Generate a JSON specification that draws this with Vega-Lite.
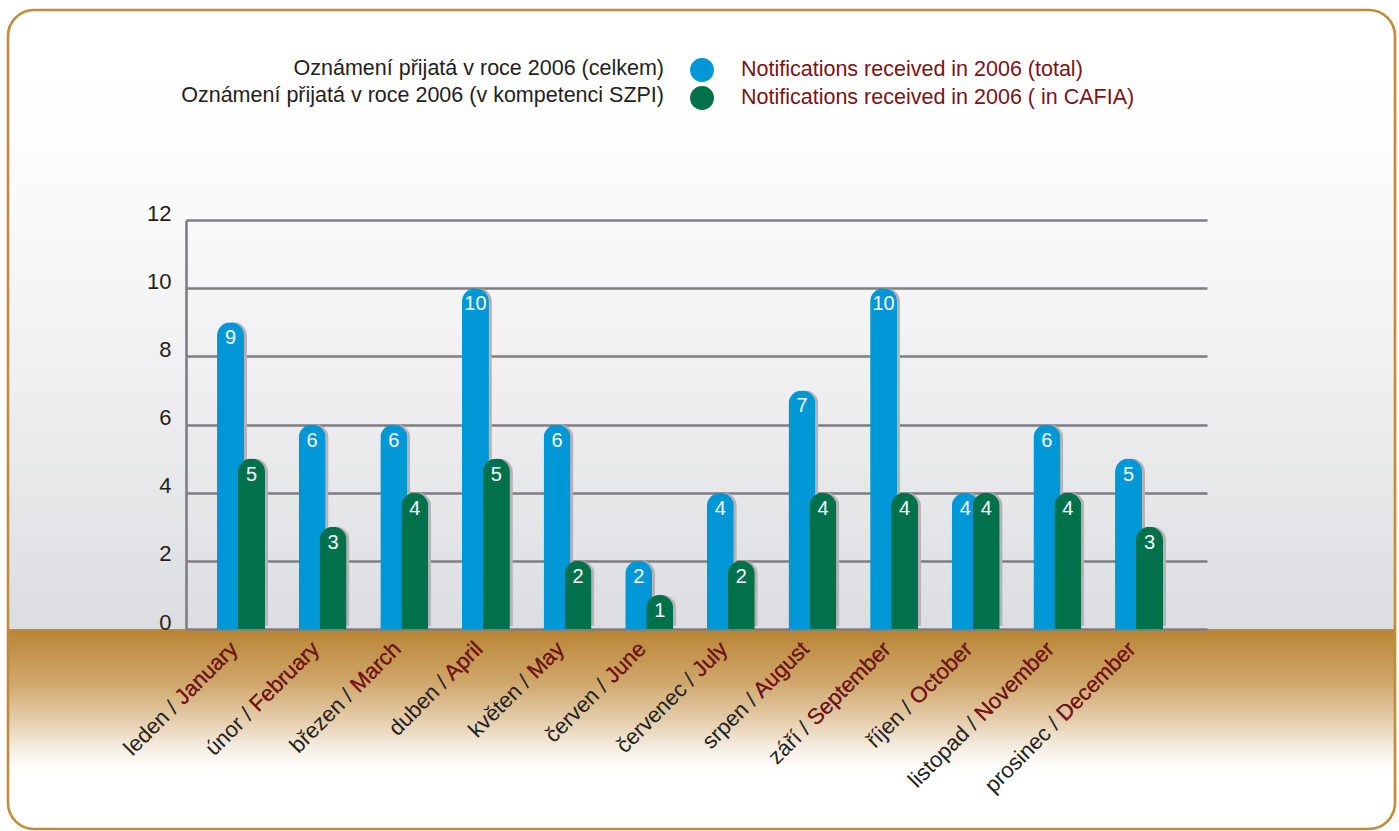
{
  "$schema": "https://vega.github.io/schema/vega-lite/v6.json",
  "width": 1387,
  "height": 819,
  "autosize": {"type": "none"},
  "padding": {"left": 8, "top": 10, "right": 4, "bottom": 2},
  "background": "#ffffff",
  "config": {
    "font": "Liberation Sans",
    "view": {
      "stroke": "#c28b37",
      "strokeWidth": 2.6,
      "cornerRadius": 26,
      "fill": {
        "gradient": "linear",
        "x1": 0, "y1": 0, "x2": 0, "y2": 1,
        "stops": [
          {"offset": 0, "color": "#ffffff"},
          {"offset": 0.12, "color": "#fefefe"},
          {"offset": 0.256, "color": "#f9f9fa"},
          {"offset": 0.476, "color": "#eeeef0"},
          {"offset": 0.7555, "color": "#dcdde0"},
          {"offset": 0.7565, "color": "#b98534"},
          {"offset": 0.82, "color": "#cfa66a"},
          {"offset": 0.87, "color": "#e6d0b0"},
          {"offset": 0.905, "color": "#f7f1e8"},
          {"offset": 0.93, "color": "#ffffff"},
          {"offset": 1, "color": "#ffffff"}
        ]
      }
    },
    "axisY": {
      "domainColor": "#7e7e82",
      "domainWidth": 2.6,
      "gridColor": "#7e7e82",
      "gridWidth": 2.6,
      "gridOpacity": 1,
      "ticks": false,
      "labelFontSize": 22,
      "labelColor": "#231f20",
      "labelPadding": 15,
      "labelBaseline": "alphabetic",
      "labelFont": "Liberation Sans",
      "format": "d"
    },
    "axisX": {
      "offset": -200,
      "domain": false,
      "ticks": false,
      "grid": false,
      "labelAngle": -45,
      "labelAlign": "right",
      "labelBaseline": "middle",
      "labelFontSize": 22,
      "labelPadding": 16,
      "labelOffset": -7,
      "labelLimit": 400,
      "labelFont": "Liberation Sans"
    },
    "legend": {
      "orient": "none",
      "direction": "vertical",
      "padding": 0,
      "symbolType": "circle",
      "symbolSize": 570,
      "rowPadding": 3,
      "labelFontSize": 21.5,
      "labelLimit": 700,
      "labelFont": "Liberation Sans"
    }
  },
  "data": {
    "values": [
      {"month": "leden / January", "series": "Notifications received in 2006 (total)", "series_cz": "Oznámení přijatá v roce 2006 (celkem)", "value": 9},
      {"month": "leden / January", "series": "Notifications received in 2006 ( in CAFIA)", "series_cz": "Oznámení přijatá v roce 2006 (v kompetenci SZPI)", "value": 5},
      {"month": "únor / February", "series": "Notifications received in 2006 (total)", "series_cz": "Oznámení přijatá v roce 2006 (celkem)", "value": 6},
      {"month": "únor / February", "series": "Notifications received in 2006 ( in CAFIA)", "series_cz": "Oznámení přijatá v roce 2006 (v kompetenci SZPI)", "value": 3},
      {"month": "březen / March", "series": "Notifications received in 2006 (total)", "series_cz": "Oznámení přijatá v roce 2006 (celkem)", "value": 6},
      {"month": "březen / March", "series": "Notifications received in 2006 ( in CAFIA)", "series_cz": "Oznámení přijatá v roce 2006 (v kompetenci SZPI)", "value": 4},
      {"month": "duben / April", "series": "Notifications received in 2006 (total)", "series_cz": "Oznámení přijatá v roce 2006 (celkem)", "value": 10},
      {"month": "duben / April", "series": "Notifications received in 2006 ( in CAFIA)", "series_cz": "Oznámení přijatá v roce 2006 (v kompetenci SZPI)", "value": 5},
      {"month": "květen / May", "series": "Notifications received in 2006 (total)", "series_cz": "Oznámení přijatá v roce 2006 (celkem)", "value": 6},
      {"month": "květen / May", "series": "Notifications received in 2006 ( in CAFIA)", "series_cz": "Oznámení přijatá v roce 2006 (v kompetenci SZPI)", "value": 2},
      {"month": "červen / June", "series": "Notifications received in 2006 (total)", "series_cz": "Oznámení přijatá v roce 2006 (celkem)", "value": 2},
      {"month": "červen / June", "series": "Notifications received in 2006 ( in CAFIA)", "series_cz": "Oznámení přijatá v roce 2006 (v kompetenci SZPI)", "value": 1},
      {"month": "červenec / July", "series": "Notifications received in 2006 (total)", "series_cz": "Oznámení přijatá v roce 2006 (celkem)", "value": 4},
      {"month": "červenec / July", "series": "Notifications received in 2006 ( in CAFIA)", "series_cz": "Oznámení přijatá v roce 2006 (v kompetenci SZPI)", "value": 2},
      {"month": "srpen / August", "series": "Notifications received in 2006 (total)", "series_cz": "Oznámení přijatá v roce 2006 (celkem)", "value": 7},
      {"month": "srpen / August", "series": "Notifications received in 2006 ( in CAFIA)", "series_cz": "Oznámení přijatá v roce 2006 (v kompetenci SZPI)", "value": 4},
      {"month": "září / September", "series": "Notifications received in 2006 (total)", "series_cz": "Oznámení přijatá v roce 2006 (celkem)", "value": 10},
      {"month": "září / September", "series": "Notifications received in 2006 ( in CAFIA)", "series_cz": "Oznámení přijatá v roce 2006 (v kompetenci SZPI)", "value": 4},
      {"month": "říjen / October", "series": "Notifications received in 2006 (total)", "series_cz": "Oznámení přijatá v roce 2006 (celkem)", "value": 4},
      {"month": "říjen / October", "series": "Notifications received in 2006 ( in CAFIA)", "series_cz": "Oznámení přijatá v roce 2006 (v kompetenci SZPI)", "value": 4},
      {"month": "listopad / November", "series": "Notifications received in 2006 (total)", "series_cz": "Oznámení přijatá v roce 2006 (celkem)", "value": 6},
      {"month": "listopad / November", "series": "Notifications received in 2006 ( in CAFIA)", "series_cz": "Oznámení přijatá v roce 2006 (v kompetenci SZPI)", "value": 4},
      {"month": "prosinec / December", "series": "Notifications received in 2006 (total)", "series_cz": "Oznámení přijatá v roce 2006 (celkem)", "value": 5},
      {"month": "prosinec / December", "series": "Notifications received in 2006 ( in CAFIA)", "series_cz": "Oznámení přijatá v roce 2006 (v kompetenci SZPI)", "value": 3}
    ]
  },
  "resolve": {"scale": {"xOffset": "independent"}, "axis": {"x": "independent", "y": "independent"}},
  "layer": [
    {
      "mark": {"type": "bar", "width": 27, "cornerRadiusTopLeft": 13.5, "cornerRadiusTopRight": 13.5, "yOffset": -3, "y2Offset": 7, "fill": "#b4b4b7", "strokeWidth": 0},
      "encoding": {
        "x": {
          "field": "month", "type": "nominal", "sort": null, "title": null,
          "scale": {"range": [178, 1199], "paddingInner": 0.4855, "paddingOuter": 0.496, "align": 0.42},
          "axis": {"orient": "bottom", "labelColor": "#231f20"}
        },
        "xOffset": {"field": "series", "type": "nominal", "sort": null, "scale": {"range": [3, 45], "paddingInner": 0, "paddingOuter": 0}},
        "y": {
          "field": "value", "type": "quantitative", "title": null,
          "scale": {"domain": [0, 12], "range": [619, 210], "nice": false},
          "axis": {"orient": "left", "values": [0, 2, 4, 6, 8, 10, 12], "grid": true, "labels": false, "domain": false, "offset": 0}
        },
        "stroke": {
          "field": "series_cz", "type": "nominal", "sort": null,
          "scale": {"range": ["#b4b4b7", "#b4b4b7"]},
          "legend": {
            "title": null,
            "legendX": 628,
            "legendY": 47,
            "labelAlign": "right",
            "labelOffset": 4,
            "labelColor": "#231f20",
            "symbolOpacity": 0,
            "symbolStrokeWidth": 0
          }
        }
      }
    },
    {
      "mark": {"type": "bar", "width": 27, "cornerRadiusTopLeft": 13.5, "cornerRadiusTopRight": 13.5, "y2Offset": 4},
      "encoding": {
        "x": {
          "field": "month", "type": "nominal", "sort": null, "title": null,
          "axis": {"orient": "bottom", "labelColor": "#7b1315", "labelExpr": "split(datum.label, ' / ')[1]"}
        },
        "xOffset": {"field": "series", "type": "nominal", "sort": null, "scale": {"range": [0, 42], "paddingInner": 0, "paddingOuter": 0}},
        "y": {
          "field": "value", "type": "quantitative", "title": null,
          "axis": {"orient": "left", "values": [0, 2, 4, 6, 8, 10, 12], "grid": false, "offset": -178}
        },
        "color": {
          "field": "series", "type": "nominal", "sort": null,
          "scale": {"range": ["#0097d7", "#00714a"]},
          "legend": {
            "title": null,
            "legendX": 681,
            "legendY": 47,
            "labelOffset": 26,
            "labelColor": "#7b1315"
          }
        }
      }
    },
    {
      "mark": {"type": "text", "color": "#ffffff", "fontSize": 20, "align": "center", "baseline": "middle", "dy": 16, "font": "Liberation Sans"},
      "encoding": {
        "x": {"field": "month", "type": "nominal", "sort": null, "title": null, "axis": null},
        "xOffset": {"field": "series", "type": "nominal", "sort": null, "scale": {"type": "point", "range": [10.5, 31.5], "padding": 0}},
        "y": {"field": "value", "type": "quantitative", "title": null, "axis": null},
        "text": {"field": "value", "type": "quantitative"}
      }
    }
  ]
}
